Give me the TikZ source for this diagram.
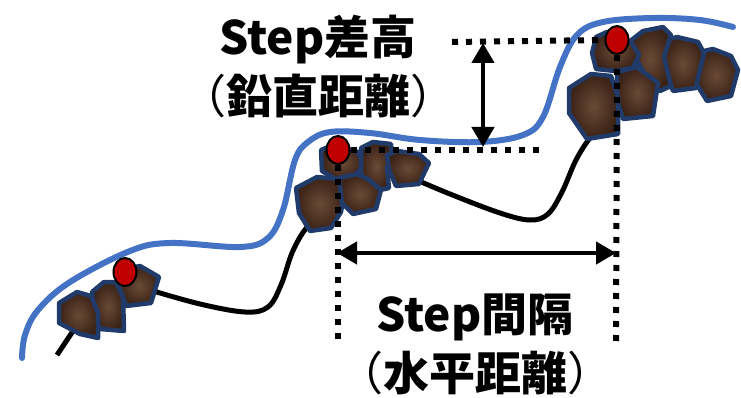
\documentclass[tikz,border=0pt]{standalone}
\usepackage{fontspec}
\newfontfamily\jpfont{Noto Sans CJK JP}
\usetikzlibrary{arrows.meta,shapes.geometric}

\definecolor{riverblue}{HTML}{4472C4}
\definecolor{stoneedge}{HTML}{203B69}
\definecolor{stonedark}{HTML}{3A2216}
\definecolor{stonelight}{HTML}{6A4A36}
\definecolor{pinred}{HTML}{C00000}

% thin full-width brackets around a bold label
\newcommand{\kakko}[1]{{\mdseries（}#1{\mdseries）}}

\begin{document}
\begin{tikzpicture}[x=1pt,y=-1pt,
  ground/.style={line width=5pt, black, line cap=butt},
  river/.style={line width=6pt, riverblue, line cap=round},
  stone/.style={draw=stoneedge, line width=4.5pt, line join=round,
    inner color=stonelight, outer color=stonedark},
  pin/.style={ellipse, draw=black, line width=2pt, fill=pinred,
    minimum width=23pt, minimum height=28pt, inner sep=0pt},
  dotline/.style={line width=6pt, dash pattern=on 6pt off 8pt},
  dimarrow/.style={line width=4.5pt,
    {Triangle[length=20pt,width=22pt]}-{Triangle[length=20pt,width=22pt]}},
  label/.style={font=\jpfont\bfseries\fontsize{46}{56}\selectfont,
    anchor=base, inner sep=0pt}]

\useasboundingbox (0,0) rectangle (741,398);

% ground profile
\draw[ground] (57,355) -- (77,325);
\draw[ground] plot[smooth,tension=0.6] coordinates
  {(150,290) (200,304) (245,312) (268,307) (281,285) (292,253) (304,231) (316,219)};
\draw[ground] plot[smooth,tension=0.6] coordinates
  {(412,178) (450,194) (500,213) (530,220) (548,214) (562,192) (576,160) (590,138) (602,128)};

% lower step stones
\shadedraw[stone] (121,270) -- (140,266) -- (159,277) -- (151,303) -- (126,306) -- (119,287) -- cycle;
\shadedraw[stone] (92,292) -- (104,282) -- (116,282) -- (123,297) -- (124,331) -- (100,329) -- (94,312) -- cycle;
\shadedraw[stone] (59,303) -- (77,292) -- (91,296) -- (98,313) -- (98,338) -- (80,334) -- (59,323) -- cycle;

% middle step stones
\shadedraw[stone] (321,150) -- (333,145) -- (358,152) -- (364,165) -- (353,178) -- (337,180) -- (322,171) -- cycle;
\shadedraw[stone] (361,148) -- (373,142) -- (391,144) -- (392,154) -- (387,168) -- (389,188) -- (380,190) -- (361,177) -- cycle;
\shadedraw[stone] (387,155) -- (397,151) -- (419,154) -- (429,163) -- (419,184) -- (396,186) -- (389,170) -- cycle;
\shadedraw[stone] (296,188) -- (317,177) -- (338,179) -- (344,193) -- (341,212) -- (331,228) -- (310,231) -- (299,213) -- cycle;
\shadedraw[stone] (339,178) -- (357,174) -- (368,179) -- (381,190) -- (376,209) -- (353,214) -- (342,203) -- cycle;

% upper step stones
\shadedraw[stone] (699,52) -- (713,49) -- (731,56) -- (738,70) -- (731,96) -- (707,101) -- (694,80) -- cycle;
\shadedraw[stone] (666,40) -- (677,37) -- (698,42) -- (704,53) -- (698,78) -- (696,88) -- (673,91) -- (662,60) -- cycle;
\shadedraw[stone] (629,42) -- (643,31) -- (663,27) -- (671,35) -- (664,57) -- (671,86) -- (660,91) -- (651,86) -- (634,55) -- cycle;
\shadedraw[stone] (596,37) -- (607,32) -- (631,42) -- (639,55) -- (633,68) -- (615,71) -- (596,69) -- (592,53) -- cycle;
\shadedraw[stone] (617,72) -- (637,67) -- (658,83) -- (653,116) -- (623,119) -- (617,100) -- cycle;
\shadedraw[stone] (569,88) -- (591,74) -- (611,76) -- (618,97) -- (618,134) -- (587,139) -- (569,113) -- cycle;

% water surface
\draw[river] plot[smooth,tension=0.6] coordinates
  {(22,358) (25,335) (38,310) (70,282) (130,251) (170,243) (240,247) (268,238)
   (283,210) (295,160) (308,142) (330,132) (370,133) (420,140) (480,142)
   (523,135) (543,117) (560,67) (577,35) (603,22) (653,18) (700,20) (733,27)};

% step crests
\node[pin] (p1) at (125,272) {};
\node[pin] (p2) at (338,150) {};
\node[pin] (p3) at (617,40) {};

% reference lines
\coordinate (hiL) at (452,42);
\coordinate (loR) at (540,150);
\coordinate (p2foot) at (338,342);
\coordinate (p3foot) at (616,348);
\draw[dotline] (hiL) -- (p3.west);
\draw[dotline] (p2.east) -- (loR);
\draw[dotline] (p2.south) -- (p2foot);
\draw[dotline] (p3.south) -- (p3foot);

% dimension arrows
\coordinate (hTop) at (483,43);
\coordinate (hBot) at (483,147);
\coordinate (wL) at (337,253);
\coordinate (wR) at (616,253);
\draw[dimarrow] (hTop) -- (hBot);
\draw[dimarrow] (wL) -- (wR);

% labels
\node[label] (hA) at (318,55) {Step差高};
\node[label] (hB) at (318,114) {\kakko{鉛直距離}};
\node[label] (wA) at (475,331) {Step間隔};
\node[label] (wB) at (475,390) {\kakko{水平距離}};
\end{tikzpicture}
\end{document}
